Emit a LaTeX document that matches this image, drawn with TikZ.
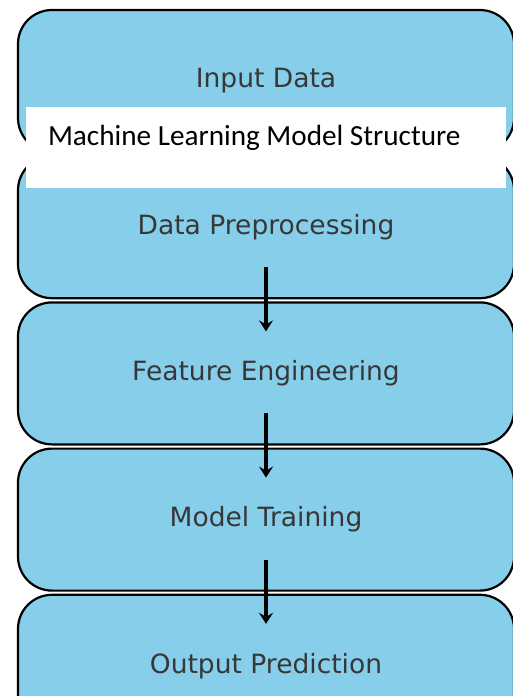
\documentclass[tikz,border=0pt]{standalone}
\usepackage{fontspec}
\setmainfont{DejaVu Sans}
\newfontfamily\titlefont{Carlito}
\usetikzlibrary{arrows.meta, positioning}
\definecolor{SkyBlue}{RGB}{135, 206, 235}
\definecolor{labelgray}{RGB}{55, 55, 55}

\begin{document}
\begin{tikzpicture}[
    x=1pt, y=-1pt,
    node distance=2pt,
    stage/.style={draw, line width=2.2pt, rounded corners=34pt, fill=SkyBlue, minimum width=496pt, minimum height=142pt, text=labelgray, font=\fontsize{26.5}{30}\selectfont},
    arrow/.style={-{Stealth[length=11pt, width=14pt, inset=4pt]}, line width=3.2pt},
    titlebox/.style={fill=white, minimum width=480pt, minimum height=81pt, inner sep=0pt},
    titletext/.style={anchor=west, inner sep=0pt, font=\titlefont\fontsize{29.2}{32}\selectfont}
]

\useasboundingbox (0,0) rectangle (513,696);
\clip (0,0) rectangle (513,696);

% Stages
\node[stage] (input) at (266,81) {Input Data};
\node[stage, below=of input] (prep) {Data Preprocessing};
\node[stage, below=of prep] (feat) {Feature Engineering};
\node[stage, below=of feat] (train) {Model Training};
\node[stage, below=of train] (output) {Output Prediction};

% Flow
\draw[arrow] ([yshift=-40pt]prep.center) -- ([yshift=42pt]feat.center);
\draw[arrow] ([yshift=-40pt]feat.center) -- ([yshift=42pt]train.center);
\draw[arrow] ([yshift=-40pt]train.center) -- ([yshift=42pt]output.center);

% Title
\node[titlebox] (titleback) at (266,147.5) {};
\node[titletext] (title) at ([xshift=22pt, yshift=10pt]titleback.west) {Machine Learning Model Structure};

\end{tikzpicture}
\end{document}
